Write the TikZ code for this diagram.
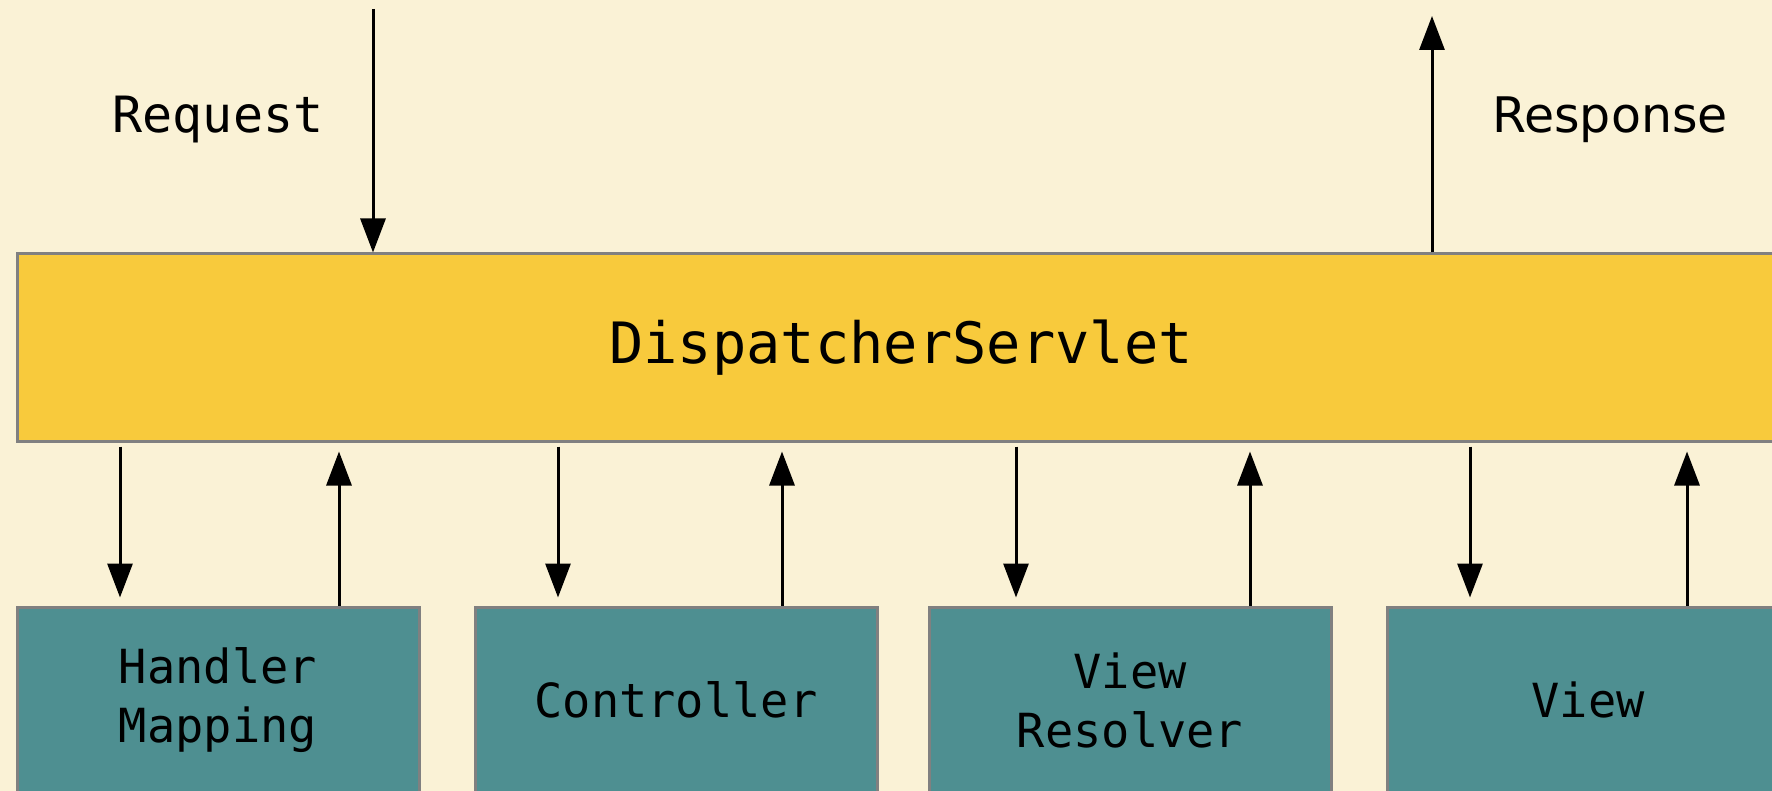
\documentclass[tikz,border=0pt]{standalone}
\usepackage{fontspec}
\setmainfont{DejaVu Sans}
\setmonofont{DejaVu Sans Mono}
\usetikzlibrary{arrows.meta}
\definecolor{paper}{RGB}{250,242,214}
\definecolor{servlet}{RGB}{248,202,60}
\definecolor{part}{RGB}{78,143,145}
\definecolor{edge}{RGB}{128,128,128}
\tikzset{
  arr/.style={line width=1.5pt, -{Triangle[length=17pt,width=12.5pt]}},
  hub/.style={draw=edge, line width=1.5pt, fill=servlet, rectangle,
    minimum width=884pt, minimum height=93.5pt, inner sep=0pt,
    font=\ttfamily\fontsize{28.5}{34}\selectfont},
  comp/.style={draw=edge, line width=1.5pt, fill=part, rectangle,
    minimum width=201pt, minimum height=93pt, inner sep=0pt, align=center,
    font=\ttfamily\fontsize{23.5}{29.5}\selectfont},
  lbl/.style={inner sep=0pt, anchor=base}
}
\begin{document}
\begin{tikzpicture}[x=0.5pt,y=-0.5pt]
  \clip (0,0) rectangle (1772,791);
  \fill[paper] (0,0) rectangle (1772,791);

  % central dispatcher
  \node[hub] (ds) at (901,347.5) {DispatcherServlet};

  % collaborating components
  \node[comp] (hm) at (218,700) {Handler\\Mapping};
  \node[comp] (ct) at (676,700) {Controller};
  \node[comp] (vr) at (1130,700) {View\\Resolver};
  \node[comp] (vw) at (1588,700) {View};

  % incoming request and outgoing response
  \coordinate (rq) at (373,9);
  \coordinate (rs) at (1432,16);
  \draw[arr] (rq) -- (ds.north -| rq);
  \draw[arr] (ds.north -| rs) -- (rs);
  \node[lbl, font=\ttfamily\fontsize{25}{30}\selectfont] (rqt) at (218,133) {Request};
  \node[lbl, font=\fontsize{24.5}{30}\selectfont] (rst) at (1610,133) {Response};

  % calls down to each component and results back up
  \foreach \c/\dx/\ux in {hm/120/339, ct/558/782, vr/1016/1250, vw/1470/1687}{
    \coordinate (d) at (\dx,0);
    \coordinate (u) at (\ux,0);
    \draw[arr, shorten <=2pt, shorten >=4pt] (ds.south -| d) -- (\c.north -| d);
    \draw[arr, shorten >=4.5pt] (\c.north -| u) -- (ds.south -| u);
  }
\end{tikzpicture}
\end{document}
